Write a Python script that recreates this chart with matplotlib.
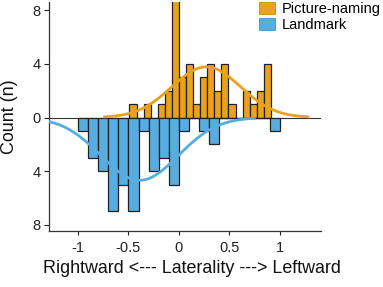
import numpy as np
import matplotlib
matplotlib.use("Agg")
import matplotlib.pyplot as plt
from matplotlib.patches import Patch

plt.rcParams["font.family"] = ["Liberation Sans", "DejaVu Sans"]

# ---- data ----
# Picture-naming: bin width 0.07 starting at -0.49
naming_edges_start = -0.49
naming_binw = 0.07
naming_counts = [1, 0, 1, 0, 1, 2, 10, 3, 4, 1, 3, 4, 2, 4, 1, 0, 2, 1, 2, 4]
naming_mu, naming_sd = 0.27, 0.34

# Landmark: bin width 0.1 starting at -1.0 (drawn downward)
landmark_edges_start = -1.0
landmark_binw = 0.1
landmark_counts = [1, 3, 4, 7, 5, 7, 1, 4, 3, 5, 1, 0, 1, 2, 0, 0, 0, 0, 0, 1]
landmark_mu, landmark_sd = -0.39, 0.383

xticks = [-1, -0.5, 0, 0.5, 1]
xticklabels = ["-1", "-0.5", "0", "0.5", "1"]
yticks = [-8, -4, 0, 4, 8]
yticklabels = ["8", "4", "0", "4", "8"]

c_orange = "#E9A21D"
c_blue = "#57ADE0"
c_edge = "#222222"


def fit_curve(counts, binw, mu, sd):
    # normal fit scaled to counts (histfit style)
    n = sum(counts)
    x = np.linspace(mu - 3 * sd, mu + 3 * sd, 200)
    y = n * binw * np.exp(-0.5 * ((x - mu) / sd) ** 2) / (sd * np.sqrt(2 * np.pi))
    return x, y


fig = plt.figure(figsize=(3.83, 2.87), dpi=100)
ax = fig.add_axes([49 / 383, 1 - 231 / 287, 272 / 383, 229 / 287])

nx = naming_edges_start + naming_binw * np.arange(len(naming_counts))
lx = landmark_edges_start + landmark_binw * np.arange(len(landmark_counts))

ax.bar(nx, naming_counts, width=naming_binw, align="edge",
       color=c_orange, edgecolor=c_edge, linewidth=0.9, zorder=2)
ax.bar(lx, -np.array(landmark_counts), width=landmark_binw, align="edge",
       color=c_blue, edgecolor=c_edge, linewidth=0.9, zorder=2)

x1, y1 = fit_curve(naming_counts, naming_binw, naming_mu, naming_sd)
ax.plot(x1, y1, color=c_orange, linewidth=2.0, zorder=3, solid_capstyle="butt")
x2, y2 = fit_curve(landmark_counts, landmark_binw, landmark_mu, landmark_sd)
ax.plot(x2, -y2, color=c_blue, linewidth=2.0, zorder=3, solid_capstyle="butt")

ax.axhline(0, color="#333333", linewidth=0.8, zorder=1)

ax.set_xlim(-1.287, 1.406)
ax.set_ylim(-8.47, 8.62)
ax.set_xticks(xticks)
ax.set_xticklabels(xticklabels)
ax.set_yticks(yticks)
ax.set_yticklabels(yticklabels)
ax.tick_params(axis="both", labelsize=10.5, colors="#222222", width=0.8)
ax.tick_params(axis="y", length=3.5, pad=2.5)
ax.tick_params(axis="x", length=3, pad=4.5)
for s in ["top", "right"]:
    ax.spines[s].set_visible(False)
for s in ["left", "bottom"]:
    ax.spines[s].set_linewidth(0.9)
    ax.spines[s].set_color("#333333")

fig.text(192 / 383, 1 - 273 / 287, "Rightward <--- Laterality ---> Leftward",
         ha="center", va="baseline", fontsize=12.9, color="#111111")
fig.text(10 / 383, 1 - 116.5 / 287, "Count (n)", rotation=90,
         ha="center", va="center", fontsize=12.9, color="#111111")

handles = [Patch(facecolor=c_orange, edgecolor="#c98a10", linewidth=0.6),
           Patch(facecolor=c_blue, edgecolor="#3f95c8", linewidth=0.6)]
fig.legend(handles, ["Picture-naming", "Landmark"], loc="upper left",
           bbox_to_anchor=(259 / 383, 1 - 1.5 / 287), frameon=False,
           fontsize=10.5, handlelength=1.1, handleheight=0.9,
           handletextpad=0.45, labelspacing=0.15, borderpad=0, borderaxespad=0)

fig.savefig("out.png", dpi=100)
